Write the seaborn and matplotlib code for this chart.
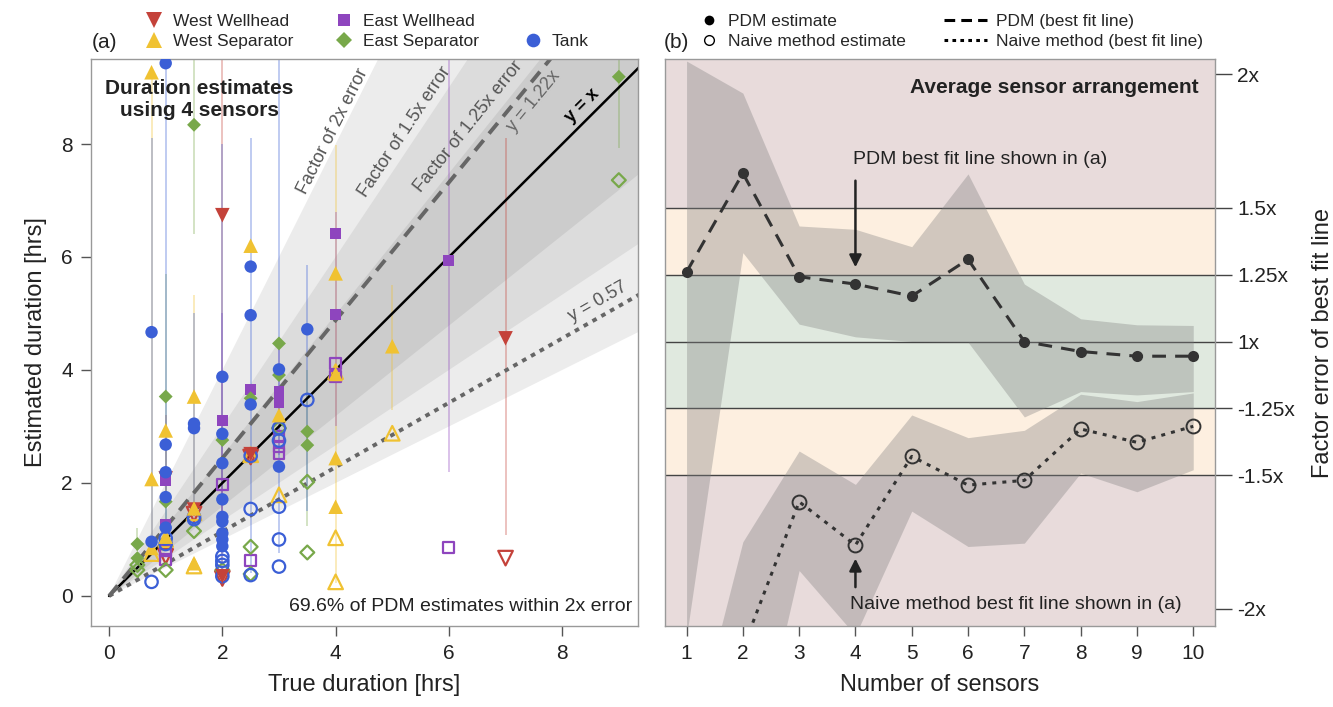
import numpy as np
import seaborn as sns
import matplotlib.pyplot as plt
from matplotlib.lines import Line2D

sns.set_theme(style='white')
plt.rcParams['font.family'] = ['Liberation Sans', 'DejaVu Sans']

# ---------------- panel (a): duration estimates ----------------
# West Wellhead
ww_x = [1, 1.5, 2, 2, 2.5, 7]
ww_pdm = [2.08, 1.53, 6.74, 0.35, 2.51, 4.56]
ww_nx = [1, 1.5, 2, 2.5, 7]
ww_naive = [0.70, 1.45, 0.31, 2.46, 0.67]
ww_bx = [1, 2, 7]
ww_lo = [1.8, 0.4, 1.08]
ww_hi = [3.2, 9.6, 8.1]

# West Separator
ws_x = [0.75, 0.75, 0.75, 1, 1, 1.5, 1.5, 1.5, 2.5, 3, 4, 4, 4, 4, 5]
ws_pdm = [9.27, 2.07, 0.85, 2.93, 1.05, 3.53, 1.55, 0.58, 6.2, 3.2, 5.71, 3.93, 2.44, 1.58, 4.42]
ws_nx = [0.75, 1, 1.5, 1.5, 2.5, 3, 4, 4, 4, 5]
ws_naive = [0.75, 1.0, 1.47, 0.53, 2.5, 1.79, 3.97, 1.03, 0.25, 2.88]
ws_bx = [0.75, 1.5, 4, 5]
ws_lo = [1.0, 1.58, 0.23, 3.3]
ws_hi = [9.27, 5.33, 7.98, 5.5]

# East Wellhead
ew_x = [1, 1, 2, 2.5, 3, 3, 4, 4, 6]
ew_pdm = [2.05, 1.27, 3.10, 3.65, 3.62, 3.42, 6.42, 4.99, 5.93]
ew_nx = [1, 1, 2, 2.5, 3, 3, 3, 4, 4, 6]
ew_naive = [0.81, 0.64, 1.98, 0.62, 2.82, 2.65, 2.53, 4.12, 3.88, 0.86]
ew_bx = [2, 3, 4, 6]
ew_lo = [1.0, 2.5, 3.0, 2.2]
ew_hi = [5.0, 4.5, 6.8, 9.6]

# East Separator
es_x = [0.5, 0.5, 1, 1, 1.5, 2, 2.5, 3, 3, 3.5, 3.5, 9]
es_pdm = [0.92, 0.67, 3.53, 1.67, 8.34, 2.76, 3.50, 4.47, 3.91, 2.91, 2.67, 9.19]
es_nx = [0.5, 0.5, 1, 1.5, 2, 2.5, 2.5, 3, 3.5, 3.5, 9]
es_naive = [0.46, 0.55, 0.46, 1.15, 0.46, 0.87, 0.39, 2.97, 2.02, 0.77, 7.36]
es_bx = [0.5, 1, 1.5, 3.5, 9]
es_lo = [0.8, 1.23, 6.4, 1.23, 7.93]
es_hi = [1.2, 5.7, 9.6, 4.0, 9.6]

# Tank
tk_x = [0.75, 0.75, 1, 1, 1, 1, 1, 1.5, 1.5, 2, 2, 2, 2, 2, 2, 2, 2, 2,
        2.5, 2.5, 2.5, 3, 3, 3.5]
tk_pdm = [4.67, 0.96, 9.43, 2.68, 2.19, 1.75, 1.21, 3.05, 2.97, 3.88, 2.87, 2.35,
          1.71, 1.40, 1.32, 1.11, 1.00, 0.88, 5.83, 4.97, 3.39, 4.01, 2.29, 4.72]
tk_nx = [0.75, 1, 1, 1.5, 1.5, 2, 2, 2, 2, 2.5, 2.5, 2.5, 3, 3, 3, 3, 3, 3.5]
tk_naive = [0.25, 1.02, 0.92, 1.40, 1.36, 0.70, 0.62, 0.55, 0.35, 2.48, 1.54, 0.37,
            2.97, 2.75, 1.58, 1.00, 0.52, 3.47]
tk_bx = [0.75, 1, 1.5, 2, 2.5, 3, 3.5]
tk_lo = [1.0, 1.2, 1.6, 0.4, 0.4, 0.76, 1.5]
tk_hi = [8.1, 9.43, 5.0, 8.0, 8.1, 9.6, 5.86]

pdm_slope = 1.22
naive_slope = 0.57
error_factors = [2, 1.5, 1.25]

# ---------------- panel (b): factor error vs number of sensors ----------------
n_sensors = [1, 2, 3, 4, 5, 6, 7, 8, 9, 10]
pdm_fit = [1.04, 2.52, 0.97, 0.86, 0.68, 1.23, 0.0, -0.15, -0.22, -0.22]
pdm_hi = [4.2, 3.72, 1.73, 1.68, 1.42, 2.51, 0.86, 0.34, 0.25, 0.24]
pdm_lo = [-4.42, 1.33, 0.26, 0.07, 0.0, -0.01, -1.13, -0.75, -0.80, -0.75]
naive_fit = [-7.0, -4.6, -2.40, -3.05, -1.72, -2.15, -2.08, -1.31, -1.51, -1.27]
naive_hi = [-6.3, -3.0, -1.64, -2.14, -1.10, -1.44, -1.33, -0.79, -0.90, -0.77]
naive_lo = [-10.0, -7.1, -3.43, -4.4, -2.54, -3.07, -3.02, -1.97, -2.25, -1.92]
factor_ticks = [4, 2, 1, 0, -1, -2, -4]
factor_labels = ['2x', '1.5x', '1.25x', '1x', '-1.25x', '-1.5x', '-2x']

groups = [
    ('West Wellhead', 'v', '#C4423A', 110, ww_x, ww_pdm, ww_nx, ww_naive, ww_bx, ww_lo, ww_hi),
    ('West Separator', '^', '#F0C232', 110, ws_x, ws_pdm, ws_nx, ws_naive, ws_bx, ws_lo, ws_hi),
    ('East Wellhead', 's', '#8E45BE', 62, ew_x, ew_pdm, ew_nx, ew_naive, ew_bx, ew_lo, ew_hi),
    ('East Separator', 'D', '#78A84A', 50, es_x, es_pdm, es_nx, es_naive, es_bx, es_lo, es_hi),
    ('Tank', 'o', '#3B5FD6', 80, tk_x, tk_pdm, tk_nx, tk_naive, tk_bx, tk_lo, tk_hi),
]

fig = plt.figure(figsize=(13.33, 7.07), dpi=100)
ax_a = fig.add_axes([0.0683, 0.1146, 0.4103, 0.8019])
ax_b = fig.add_axes([0.4989, 0.1146, 0.4126, 0.8019])

# ---- panel (a) ----
ax_a.set_xlim(-0.318, 9.338)
ax_a.set_ylim(-0.531, 9.504)
xx = np.array([0, 10.0])
for f, c in zip(error_factors, ['#ececec', '#dcdcdc', '#cccccc']):
    ax_a.fill_between(xx, xx / f, xx * f, color=c, lw=0, zorder=0)

for name, m, c, s, px, py, nx, ny, bx, lo, hi in groups:
    ax_a.vlines(bx, lo, hi, color=c, alpha=0.35, lw=1.3, zorder=1)

ax_a.plot(xx, xx, color='black', lw=1.8, zorder=2)
ax_a.plot(xx, pdm_slope * xx, color='#666666', lw=2.8, ls=(0, (3.5, 2.2)), zorder=2)
ax_a.plot(xx, naive_slope * xx, color='#666666', lw=2.8, ls=(0, (1.2, 1.4)), zorder=2)

for name, m, c, s, px, py, nx, ny, bx, lo, hi in groups:
    ax_a.scatter(nx, ny, marker=m, s=s, facecolor='none', edgecolor=c, linewidth=1.6, zorder=3)
    sns.scatterplot(x=px, y=py, marker=m, color=c, s=s, edgecolor='none', linewidth=0,
                    ax=ax_a, zorder=4, legend=False)


def slope_angle(ax, m):
    p0 = ax.transData.transform((0, 0))
    p1 = ax.transData.transform((1, m))
    return np.degrees(np.arctan2(p1[1] - p0[1], p1[0] - p0[0]))


txt_kw = dict(ha='center', va='center', rotation_mode='anchor')
ax_a.text(3.95, 8.22, 'Factor of 2x error', color='#555555', fontsize=13,
          rotation=slope_angle(ax_a, 2), **txt_kw)
ax_a.text(5.22, 8.21, 'Factor of 1.5x error', color='#555555', fontsize=13,
          rotation=slope_angle(ax_a, 1.5), **txt_kw)
ax_a.text(6.35, 8.30, 'Factor of 1.25x error', color='#555555', fontsize=13,
          rotation=slope_angle(ax_a, 1.25), **txt_kw)
ax_a.text(7.5, 8.76, 'y = 1.22x', color='#666666', fontsize=13,
          rotation=slope_angle(ax_a, pdm_slope), **txt_kw)
ax_a.text(8.35, 8.67, 'y = x', color='black', fontsize=13, fontweight='bold',
          rotation=slope_angle(ax_a, 1), **txt_kw)
ax_a.text(8.63, 5.2, 'y = 0.57', color='#555555', fontsize=13,
          rotation=slope_angle(ax_a, naive_slope), **txt_kw)
ax_a.text(1.6, 8.79, 'Duration estimates\nusing 4 sensors', fontsize=15, fontweight='bold',
          color='#222222', ha='center', va='center', linespacing=1.2)
ax_a.text(9.23, -0.19, '69.6% of PDM estimates within 2x error', fontsize=14,
          color='#222222', ha='right', va='center')

ax_a.set_xticks([0, 2, 4, 6, 8])
ax_a.set_yticks([0, 2, 4, 6, 8])
ax_a.tick_params(bottom=True, left=True, direction='out', length=7, width=1,
                 color='#555555', labelsize=15, labelcolor='#222222', pad=6)
ax_a.set_xlabel('True duration [hrs]', fontsize=17, color='#222222', labelpad=8)
ax_a.set_ylabel('Estimated duration [hrs]', fontsize=17, color='#222222', labelpad=10)
for sp in ax_a.spines.values():
    sp.set_color('#999999')
    sp.set_linewidth(1)

# ---- panel (b) ----
ax_b.set_xlim(0.618, 10.387)
ax_b.set_ylim(-4.26, 4.23)
ax_b.axhspan(2, 6, color='#E8DBDB', lw=0, zorder=0)
ax_b.axhspan(-6, -2, color='#E8DBDB', lw=0, zorder=0)
ax_b.axhspan(1, 2, color='#FDEFE0', lw=0, zorder=0)
ax_b.axhspan(-2, -1, color='#FDEFE0', lw=0, zorder=0)
ax_b.axhspan(-1, 1, color='#E0E9DF', lw=0, zorder=0)
for yv in [2, 1, 0, -1, -2]:
    ax_b.axhline(yv, color='#444444', lw=1, zorder=1)

ax_b.fill_between(n_sensors, pdm_lo, pdm_hi, color='#7f7f7f', alpha=0.35, lw=0, zorder=2)
ax_b.fill_between(n_sensors, naive_lo, naive_hi, color='#7f7f7f', alpha=0.35, lw=0, zorder=2)

sns.lineplot(x=n_sensors, y=pdm_fit, ax=ax_b, color='#333333', lw=2.2,
             linestyle=(0, (4.5, 3)), marker='o', markersize=8, markeredgewidth=0,
             markeredgecolor='#333333', errorbar=None, zorder=3)
sns.lineplot(x=n_sensors, y=naive_fit, ax=ax_b, color='#333333', lw=2.2,
             linestyle=(0, (1.3, 2)), marker='o', markersize=10, markerfacecolor='none',
             markeredgecolor='#333333', markeredgewidth=1.4, errorbar=None, zorder=3)

ax_b.annotate('', xy=(4, 1.07), xytext=(4, 2.45),
              arrowprops=dict(arrowstyle='-|>', color='#222222', lw=1.8, mutation_scale=18))
ax_b.text(3.95, 2.72, 'PDM best fit line shown in (a)', fontsize=14, color='#222222',
          ha='left', va='center')
ax_b.annotate('', xy=(4, -3.21), xytext=(4, -3.72),
              arrowprops=dict(arrowstyle='-|>', color='#222222', lw=1.8, mutation_scale=18))
ax_b.text(3.9, -3.94, 'Naive method best fit line shown in (a)', fontsize=14,
          color='#222222', ha='left', va='center')
ax_b.text(10.09, 3.81, 'Average sensor arrangement', fontsize=15, fontweight='bold',
          color='#222222', ha='right', va='center')

ax_b.set_xticks(n_sensors)
ax_b.set_yticks(factor_ticks)
ax_b.set_yticklabels(factor_labels)
ax_b.yaxis.tick_right()
ax_b.yaxis.set_label_position('right')
ax_b.tick_params(axis='x', bottom=True, direction='out', length=7, width=1,
                 color='#555555', labelsize=15, labelcolor='#222222', pad=6)
ax_b.tick_params(axis='y', right=True, left=False, direction='out', length=12, width=1,
                 color='#444444', labelsize=15, labelcolor='#222222', pad=4)
ax_b.set_xlabel('Number of sensors', fontsize=17, color='#222222', labelpad=8)
ax_b.set_ylabel('Factor error of best fit line', fontsize=17, color='#222222', labelpad=12)
for sp in ax_b.spines.values():
    sp.set_color('#999999')
    sp.set_linewidth(1)

# ---- legends ----
leg_kw = dict(loc='upper left', frameon=False, fontsize=12.5, borderpad=0, borderaxespad=0,
              handlelength=1.0, handletextpad=0.6, labelspacing=0.28)


def marker_handle(m, c, s):
    return Line2D([], [], ls='none', marker=m, color=c, markersize=np.sqrt(s) * 1.1,
                  markeredgewidth=0)


col_pos = [154, 344, 533]
cols = [[0, 1], [2, 3], [None, 4]]
for xpix, idx in zip(col_pos, cols):
    hs, ls = [], []
    for i in idx:
        if i is None:
            hs.append(Line2D([], [], ls='none'))
            ls.append(' ')
        else:
            g = groups[i]
            hs.append(marker_handle(g[1], g[2], g[3]))
            ls.append(g[0])
    fig.legend(hs, ls, bbox_to_anchor=((xpix - 9) / 1333, 1 - 14 / 707), **leg_kw)

h_pdm = Line2D([], [], ls='none', marker='o', color='black', markersize=7, markeredgewidth=0)
h_naive = Line2D([], [], ls='none', marker='o', markerfacecolor='none', markeredgecolor='black',
                 markersize=7, markeredgewidth=1)
fig.legend([h_pdm, h_naive], ['PDM estimate', 'Naive method estimate'],
           bbox_to_anchor=((709 - 9) / 1333, 1 - 14 / 707), **leg_kw)
h_pdm_line = Line2D([], [], color='black', lw=2.2, ls=(0, (3.5, 2)))
h_naive_line = Line2D([], [], color='black', lw=2.2, ls=(0, (1.2, 1.4)))
leg_kw2 = dict(leg_kw, handlelength=2.5, handletextpad=0.5)
fig.legend([h_pdm_line, h_naive_line], ['PDM (best fit line)', 'Naive method (best fit line)'],
           bbox_to_anchor=(944 / 1333, 1 - 14 / 707), **leg_kw2)

fig.text(92 / 1333, 1 - 42 / 707, '(a)', fontsize=15, color='#222222', va='center')
fig.text(664 / 1333, 1 - 42 / 707, '(b)', fontsize=15, color='#222222', va='center')

fig.savefig('out.png', dpi=100)
